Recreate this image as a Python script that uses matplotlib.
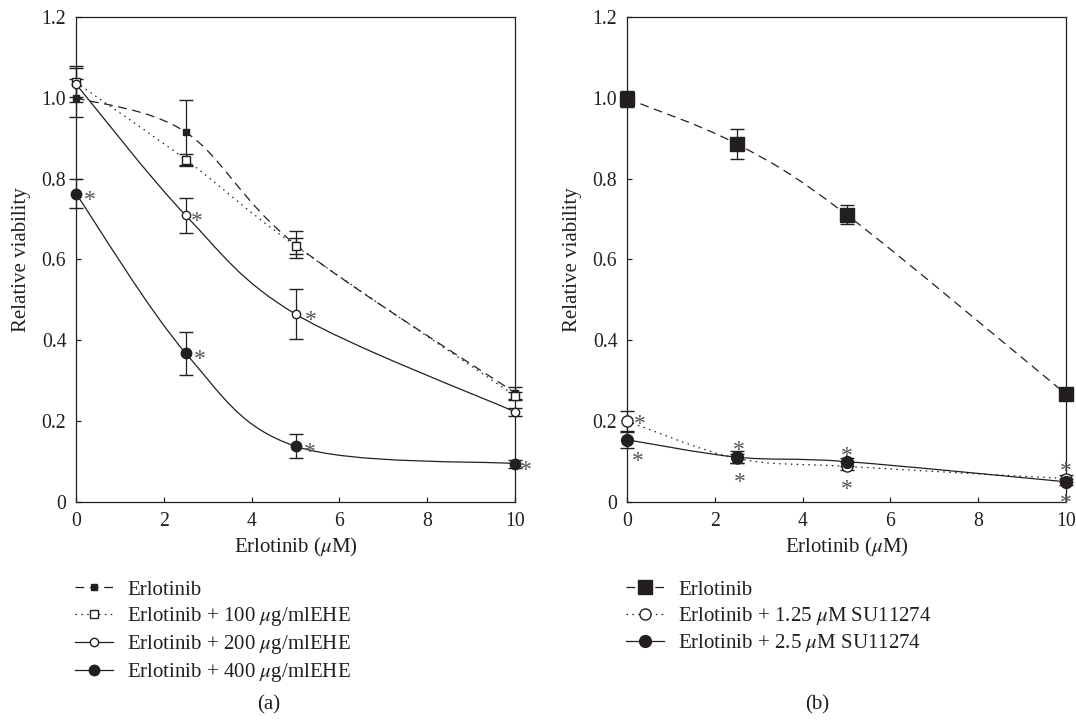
import numpy as np
import matplotlib.pyplot as plt
from matplotlib.path import Path
from matplotlib.patches import PathPatch
from matplotlib.lines import Line2D

plt.rcParams['font.family'] = ['Liberation Serif', 'DejaVu Serif']
plt.rcParams['mathtext.fontset'] = 'stix'
plt.rcParams['font.size'] = 15

ink = '#231f20'
star_color = '#555555'

dose = [0, 2.5, 5, 10]

# (a) erlotinib with EHE extract
erl_a = [1.00, 0.915, 0.637, 0.27]
erl_a_err = [0.047, 0.08, 0.033, 0.015]
ehe100 = [1.038, 0.847, 0.634, 0.263]
ehe100_err = [0.035, 0.015, 0.02, 0.01]
ehe200 = [1.034, 0.709, 0.465, 0.223]
ehe200_err = [0.045, 0.043, 0.062, 0.01]
ehe400 = [0.763, 0.368, 0.138, 0.095]
ehe400_err = [0.035, 0.053, 0.03, 0.01]
sig_ehe200 = [1, 2]
sig_ehe400 = [0, 1, 2, 3]

# (b) erlotinib with SU11274
erl_b = [0.998, 0.886, 0.711, 0.267]
erl_b_err = [0.02, 0.037, 0.023, 0.01]
su125 = [0.20, 0.108, 0.088, 0.058]
su125_err = [0.025, 0.012, 0.01, 0.008]
su25 = [0.154, 0.111, 0.10, 0.05]
su25_err = [0.02, 0.015, 0.01, 0.008]
sig_su125 = [0, 1, 2, 3]
sig_su25 = [0, 1, 2, 3]

labels_a = ['Erlotinib',
            r'Erlotinib + 100 $\mu$g/mlEHE',
            r'Erlotinib + 200 $\mu$g/mlEHE',
            r'Erlotinib + 400 $\mu$g/mlEHE']
labels_b = ['Erlotinib',
            r'Erlotinib + 1.25 $\mu$M SU11274',
            r'Erlotinib + 2.5 $\mu$M SU11274']

DASHED = (0, (7, 4.5))
DOTTED = (0, (1.2, 3.5))
LW = 0.9


def smooth_path(x, y):
    # Catmull-Rom style bezier through the points (spreadsheet "smoothed line")
    pts = np.column_stack([x, y]).astype(float)
    n = len(pts)
    verts = [pts[0]]
    codes = [Path.MOVETO]
    for i in range(n - 1):
        p0 = pts[max(i - 1, 0)]
        p1 = pts[i]
        p2 = pts[i + 1]
        p3 = pts[min(i + 2, n - 1)]
        verts += [p1 + (p2 - p0) / 6, p2 - (p3 - p1) / 6, p2]
        codes += [Path.CURVE4] * 3
    return Path(verts, codes)


def draw_series(ax, y, err, ls, marker, ms, mfc):
    ax.add_patch(PathPatch(smooth_path(dose, y), fill=False, ls=ls, lw=LW,
                           ec=ink, clip_on=False, zorder=2))
    cont = ax.errorbar(dose, y, yerr=err, fmt=marker, ms=ms, mfc=mfc, mec=ink,
                       mew=1.0, ecolor=ink, elinewidth=LW, capsize=5,
                       capthick=LW, zorder=3)
    for art in cont.get_children():
        art.set_clip_on(False)
    return Line2D([], [], ls=ls, lw=LW, color=ink, marker=marker, ms=ms,
                  mfc=mfc, mec=ink, mew=1.0)


def stars(ax, y, idx, dx, dy):
    for i in idx:
        ax.annotate('*', (dose[i], y[i]), xytext=(dx[i], dy[i]),
                    textcoords='offset pixels', ha='center', va='baseline',
                    fontsize=17, color=star_color, annotation_clip=False)


def style_axes(ax):
    ax.set_xlim(0, 10)
    ax.set_ylim(0, 1.2)
    ax.set_xticks([0, 2, 4, 6, 8, 10])
    ax.set_yticks([0, 0.2, 0.4, 0.6, 0.8, 1.0, 1.2])
    ax.set_yticklabels(['0', '0.2', '0.4', '0.6', '0.8', '1.0', '1.2'])
    ax.tick_params(direction='in', length=3.6, width=LW, top=False, right=False,
                   pad=7, colors=ink, labelsize=14.2)
    for s in ax.spines.values():
        s.set_linewidth(LW)
        s.set_color(ink)
    ax.set_xlabel(r'Erlotinib ($\mu$M)', color=ink, labelpad=4)
    ax.set_ylabel('Relative viability', color=ink, labelpad=8)


fig = plt.figure(figsize=(10.76, 7.2), dpi=100)
ax_a = fig.add_axes([76 / 1076, 218 / 720, 439 / 1076, 485 / 720])
ax_b = fig.add_axes([627 / 1076, 218 / 720, 439 / 1076, 485 / 720])

# panel (a)
h_a = [draw_series(ax_a, erl_a, erl_a_err, DASHED, 's', 4.5, ink),
       draw_series(ax_a, ehe100, ehe100_err, DOTTED, 's', 5.5, 'white'),
       draw_series(ax_a, ehe200, ehe200_err, '-', 'o', 6, 'white'),
       draw_series(ax_a, ehe400, ehe400_err, '-', 'o', 7.5, ink)]
level = [-12, -12, -12, -12]
stars(ax_a, ehe200, sig_ehe200, [11, 11, 15, 11], level)
stars(ax_a, ehe400, sig_ehe400, [14, 14, 14, 11], level)
style_axes(ax_a)
ax_a.legend(h_a, labels_a, loc='upper left',
            bbox_to_anchor=(75 / 1076, 1 - 580 / 720),
            bbox_transform=fig.transFigure, frameon=False, borderpad=0,
            borderaxespad=0, handlelength=1.8, handletextpad=0.7,
            labelspacing=0.25, fontsize=15, labelcolor=ink)

# panel (b)
h_b = [draw_series(ax_b, erl_b, erl_b_err, DASHED, 's', 10, ink),
       draw_series(ax_b, su125, su125_err, DOTTED, 'o', 8, 'white'),
       draw_series(ax_b, su25, su25_err, '-', 'o', 8.5, ink)]
stars(ax_b, su125, sig_su125, [13, 2, 0, 0], [-9, 2, 4, 2])
stars(ax_b, su25, sig_su25, [11, 3, 0, 0], [-27, -31, -33, -27])
style_axes(ax_b)
ax_b.legend(h_b, labels_b, loc='upper left',
            bbox_to_anchor=(626 / 1076, 1 - 580 / 720),
            bbox_transform=fig.transFigure, frameon=False, borderpad=0,
            borderaxespad=0, handlelength=1.8, handletextpad=0.7,
            labelspacing=0.25, fontsize=15, labelcolor=ink)

fig.text(269 / 1076, 1 - 705 / 720, '(a)', ha='center', va='center',
         color=ink, fontsize=15)
fig.text(817 / 1076, 1 - 705 / 720, '(b)', ha='center', va='center',
         color=ink, fontsize=15)

fig.savefig('out.png', dpi=100)
